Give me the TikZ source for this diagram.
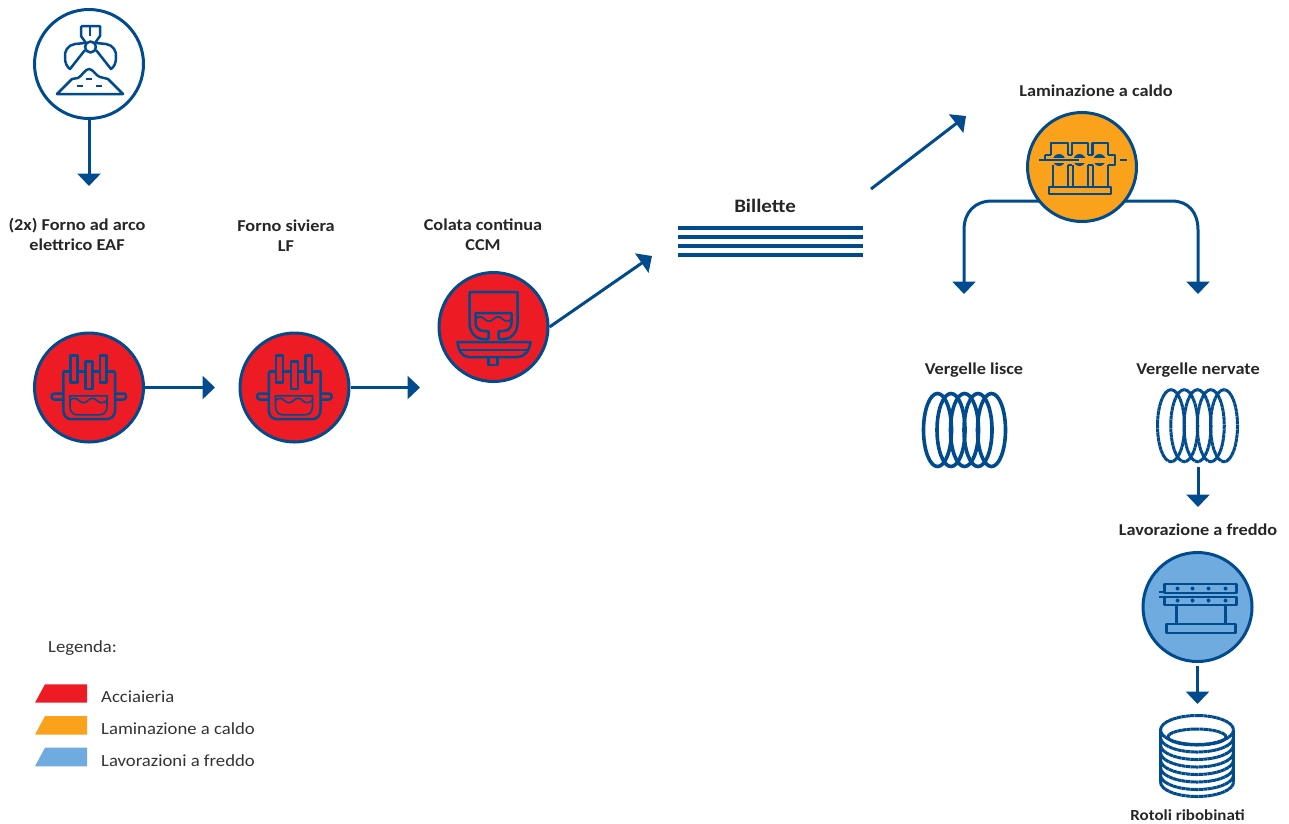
\documentclass[tikz,border=0pt]{standalone}
\usepackage{fontspec}
\setmainfont{Carlito}[FakeStretch=1.1]
\usetikzlibrary{arrows.meta}
\definecolor{steelblue}{HTML}{004B8D}
\definecolor{redmelt}{HTML}{ED1C24}
\definecolor{orangehot}{HTML}{FAA21B}
\definecolor{bluecold}{HTML}{6FABDF}
\tikzset{
  stage/.style={circle,draw=steelblue,line width=3pt,minimum size=109pt,inner sep=0pt},
  flow/.style={draw=steelblue,line width=3pt,-{Triangle[length=12.5pt,width=23pt]}},
  icon/.style={draw=steelblue,line width=2.5pt,line join=round},
  wave/.style={draw=steelblue,line width=1.6pt},
  coil/.style={draw=steelblue,line width=3.6pt},
  ribcoil/.style={draw=steelblue,line width=3pt,dash pattern=on 4pt off 0.4pt},
  title/.style={font=\fontsize{16.6}{20}\selectfont\bfseries,text=black!85,align=center,inner sep=0pt},
  legendtext/.style={font=\fontsize{17}{20}\selectfont,text=black!80,anchor=west,inner sep=0pt}
}
\newcommand{\furnaceicon}{
  \draw[icon] (-25.7,-16) -- (-18.3,-16) (-11.7,-16) -- (-3.3,-16) (3.3,-16) -- (11,-16) (17.7,-16) -- (26,-16);
  \draw[icon] (-25.7,-16) -- (-25.7,22) .. controls (-25.7,29) and (-22,31.7) .. (-17,31.7) -- (17,31.7) .. controls (22,31.7) and (26,29) .. (26,22) -- (26,-16);
  \draw[icon] (-18.3,-5) -- (-18.3,-32) -- (-11.7,-32) -- (-11.7,-5) -- cycle;
  \draw[icon] (-3.3,1.7) -- (-3.3,-26) -- (3.3,-26) -- (3.3,1.7) -- cycle;
  \draw[icon] (11,-5) -- (11,-32) -- (17.7,-32) -- (17.7,-5) -- cycle;
  \draw[wave] (-19,8.3) -- (18,8.3) -- (18,19) .. controls (18,24) and (15,27.3) .. (11,27.3) -- (-12,27.3) .. controls (-16,27.3) and (-19,24) .. (-19,19) -- cycle;
  \draw[wave] (-19,13) .. controls (-16,10) and (-13,10) .. (-10,13) .. controls (-7,16) and (-4,16) .. (-1,13) .. controls (2,10) and (5,10) .. (8,13) .. controls (11,16) and (14,16) .. (18,13);
  \draw[icon,rounded corners=2.5pt] (-25.7,6) -- (-37.3,6) -- (-37.3,12) -- (-25.7,12);
  \draw[icon,rounded corners=2.5pt] (26,6) -- (37,6) -- (37,12) -- (26,12);
}
\begin{document}
\begin{tikzpicture}[x=1pt,y=-1pt]
\useasboundingbox (0,0) rectangle (1289,823);
\node [stage,fill=white] (scrap) at (89,64) {};
\node [stage,fill=redmelt] (eaf) at (89,387.5) {};
\node [stage,fill=redmelt] (lf) at (294.5,387.5) {};
\node [stage,fill=redmelt] (ccm) at (493.5,327) {};
\node [stage,fill=orangehot] (hotroll) at (1082,167) {};
\node [stage,fill=bluecold] (coldroll) at (1197.5,607) {};

\node [title] (eaflabel) at (77,234.5) {(2x) Forno ad arco\\elettrico EAF};
\node [title] (lflabel) at (286,235.5) {Forno siviera\\LF};
\node [title] (ccmlabel) at (483,234.5) {Colata continua\\CCM};
\node [title,font=\fontsize{19}{20}\selectfont\bfseries] (billette) at (765,206) {Billette};
\node [title] (hotlabel) at (1096,91) {Laminazione a caldo};
\node [title] (smooth) at (974,370.5) {Vergelle lisce};
\node [title] (ribbed) at (1198,370.5) {Vergelle nervate};
\node [title] (coldlabel) at (1198,530) {Lavorazione a freddo};
\node [title,font=\fontsize{15.4}{20}\selectfont\bfseries] (rolls) at (1187.5,815) {Rotoli ribobinati};

\foreach \y in {228,237,246,255}
  \draw[steelblue,line width=3.8pt] (678,\y) -- (863,\y);

\coordinate (eafin) at (89,186);
\coordinate (billettein) at (652,256);
\coordinate (billetteout) at (871,189);
\coordinate (hotin) at (966,116);
\coordinate (smoothin) at (964,294);
\coordinate (ribbedin) at (1198,294);
\coordinate (ribbedout) at (1198,467);
\coordinate (coldin) at (1198,507);
\coordinate (rollsout) at (1197.5,666);
\coordinate (rollsin) at (1197.5,704);
\coordinate (lfin) at (215,387.5);
\coordinate (ccmin) at (420,387.5);
\coordinate (hotleft) at (1040,201);
\coordinate (hotright) at (1124,201);

\draw[flow] (scrap) -- (eafin);
\draw[flow] (eaf) -- (lfin);
\draw[flow] (lf) -- (ccmin);
\draw[flow] (ccm.east) -- (billettein);
\draw[flow] (billetteout) -- (hotin);
\draw[flow] (hotleft) -- (992,201) .. controls (975,201) and (964,212) .. (964,230) -- (smoothin);
\draw[flow] (hotright) -- (1172,201) .. controls (1188,201) and (1198,212) .. (1198,230) -- (ribbedin);
\draw[flow] (ribbedout) -- (coldin);
\draw[flow] (rollsout) -- (rollsin);

\begin{scope}[shift={(scrap)}]
  \draw[icon] (-8,-38) -- (11,-38) -- (11,-28) -- (6,-21) (-8,-38) -- (-8,-28) -- (-3,-21);
  \draw[icon,line width=1.6pt] (1,-37) -- (1,-28);
  \draw[icon] (1.5,-17) circle (5.5);
  \draw[icon] (-4,-21) -- (-14,-20) .. controls (-21,-19) and (-25,-13) .. (-24,-6) .. controls (-24,-1) and (-22,3) .. (-19,5) -- (-4,-14);
  \draw[icon] (7,-21) -- (17,-20) .. controls (24,-19) and (28,-13) .. (27,-6) .. controls (27,-1) and (25,3) .. (22,5) -- (7,-14);
  \draw[icon] (-32,30) -- (-17,15) -- (-11,14) .. controls (-7,12) and (-4,5) .. (0,5) .. controls (4,5) and (7,12) .. (11,13) -- (19,15) -- (34,30) -- cycle;
  \draw[icon] (-3,15) -- (3,15) (-12,22) -- (-6,22) (7,22) -- (13,22);
\end{scope}

\begin{scope}[shift={(eaf)}]
  \furnaceicon
\end{scope}
\begin{scope}[shift={(lf)}]
  \furnaceicon
\end{scope}

\begin{scope}[shift={(ccm)}]
  \draw[icon] (-5,12) -- (-5,4) -- (-10,4) .. controls (-15,4) and (-18,0) .. (-18,-4) -- (-18,-14) -- (18,-14) -- (18,-4) .. controls (18,0) and (15,4) .. (10,4) -- (5,4) -- (5,12);
  \draw[icon] (-5,12) -- (-10,12) .. controls (-19,12) and (-24,4) .. (-24,-4) -- (-24,-35) -- (24,-35) -- (24,-4) .. controls (24,4) and (19,12) .. (10,12) -- (5,12);
  \draw[wave] (-18,-8) .. controls (-15,-11) and (-12,-11) .. (-9,-8) .. controls (-6,-5) and (-3,-5) .. (0,-8) .. controls (3,-11) and (6,-11) .. (9,-8) .. controls (12,-5) and (15,-5) .. (18,-8);
  \draw[icon] (-36,15) -- (37,15) .. controls (36,24) and (31,30) .. (24,30) -- (-25,30) .. controls (-31,30) and (-35,24) .. (-36,15) -- cycle;
  \draw[icon] (-34,23) -- (35,23);
  \draw[icon] (-5,30) -- (-5,38) -- (4,38) -- (4,30);
\end{scope}

\begin{scope}[shift={(hotroll)}]
  \draw[icon] (-33,20) rectangle (29,27);
  \draw[icon] (-31,-12) -- (-31,-24) -- (-14,-24) -- (-14,-12) (-10,-12) -- (-10,-24) -- (6,-24) -- (6,-12) (10.5,-12) -- (10.5,-24) -- (26,-24) -- (26,-12);
  \draw[icon] (-37,-12) -- (-31,-12) (-14,-12) -- (-10,-12) (6,-12) -- (10.5,-12) (26,-12) -- (33,-12) -- (33,-2) -- (26,-2) (-14,-2) -- (-10,-2) (6,-2) -- (10.5,-2);
  \draw[icon] (-37,-12) -- (-37,-7);
  \draw[icon] (-29,-2) -- (-29,20) (-14,-2) -- (-14,20) (-9,-2) -- (-9,20) (6,-2) -- (6,20) (11,-2) -- (11,20) (26,-2) -- (26,20);
  \foreach \x in {-23,-2.5,17.5} {
    \fill[steelblue] (\x,-7) circle (6);
    \fill[orangehot] (\x-7,-9.5) rectangle (\x+7,-4);
  }
  \draw[icon] (-43,-7) -- (-3,-7) (38,-7) -- (45,-7);
\end{scope}

\begin{scope}[shift={(coldroll)}]
  \draw[icon] (-33,-23) rectangle (39,-14);
  \draw[icon] (-33,-10) rectangle (39,-2);
  \draw[icon] (-39,-15) -- (-33,-15) (-39,-10) -- (-33,-10);
  \foreach \x in {-20,-5,11,28} {
    \fill[steelblue] (\x,-18.5) circle (2);
    \fill[steelblue] (\x,-6.5) circle (2);
  }
  \draw[icon] (-21,-2) -- (-21,17) (28,-2) -- (28,17);
  \draw[icon] (-31,17) rectangle (38,26);
\end{scope}

\foreach \x in {937.5,951,964.5,978,991.5}
  \draw[coil] (\x,430) ellipse (14 and 36.5);
\foreach \x in {1171,1184.25,1197.5,1210.75,1224}
  \draw[ribcoil] (\x,425.7) ellipse (13.5 and 36);

\draw[ribcoil] (1197,730) ellipse (36.5 and 14.5);
\draw[ribcoil] (1197,737) ellipse (29 and 8);
\foreach \y in {737.5,745,752.5,760,767.5,775,782}
  \draw[ribcoil] (1160.5,\y) arc[start angle=180,end angle=0,x radius=36.5,y radius=14.5];
\draw[steelblue,line width=3pt] (1160.5,730) -- (1160.5,782) (1233.5,730) -- (1233.5,782);

\node [legendtext] (legend) at (48,648) {Legenda:};
\fill[redmelt] (35,702.7) -- (45,684.3) -- (87,684.3) -- (87,702.7) -- cycle;
\fill[orangehot] (35,734.7) -- (45,716) -- (87,716) -- (87,734.7) -- cycle;
\fill[bluecold] (35,766.3) -- (45,747.7) -- (87,747.7) -- (87,766.3) -- cycle;
\node [legendtext] (steel) at (101,696.5) {Acciaieria};
\node [legendtext] (hot) at (101,728.5) {Laminazione a caldo};
\node [legendtext] (cold) at (101,760.5) {Lavorazioni a freddo};
\end{tikzpicture}
\end{document}
